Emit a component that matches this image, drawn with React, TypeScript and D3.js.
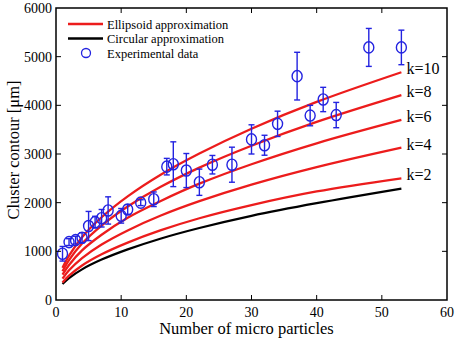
import React, { useEffect, useRef } from 'react';
import * as d3 from 'd3';

// Experimental cluster contour measurements
const nParticles = [1, 2, 3, 4, 5, 6, 7, 8, 10, 11, 13, 15, 17, 18, 20, 22, 24, 27, 30, 32, 34, 37, 39, 41, 43, 48, 53];
const contour = [950, 1190, 1230, 1280, 1520, 1600, 1680, 1840, 1730, 1860, 2000, 2070, 2740, 2790, 2660, 2420, 2780, 2780, 3300, 3180, 3620, 4600, 3790, 4120, 3800, 5190, 5190];
const contourErr = [150, 70, 80, 100, 300, 120, 180, 280, 150, 100, 60, 150, 170, 460, 350, 270, 190, 360, 300, 205, 260, 490, 210, 250, 260, 390, 355];

// Model curves sampled at these particle counts
const modelN = [1, 2, 4, 7, 11, 16, 22, 30, 40, 53];
const ellipsoidK10 = [660, 910, 1290, 1700, 2130, 2570, 3010, 3520, 4070, 4680];
const ellipsoidK8 = [590, 820, 1160, 1530, 1920, 2320, 2720, 3170, 3660, 4210];
const ellipsoidK6 = [520, 720, 1020, 1340, 1690, 2030, 2390, 2790, 3220, 3700];
const ellipsoidK4 = [440, 610, 860, 1140, 1430, 1730, 2030, 2370, 2730, 3130];
const ellipsoidK2 = [360, 500, 710, 940, 1180, 1430, 1680, 1950, 2230, 2500];
const circular = [330, 450, 630, 830, 1040, 1260, 1480, 1730, 1990, 2290];

const ellipsoidLabels = ['k=10', 'k=8', 'k=6', 'k=4', 'k=2'];
const ellipsoidSeries = [ellipsoidK10, ellipsoidK8, ellipsoidK6, ellipsoidK4, ellipsoidK2];

const xTicks = [0, 10, 20, 30, 40, 50, 60];
const yTicks = [0, 1000, 2000, 3000, 4000, 5000, 6000];

const RED = '#ec1c1c';
const BLUE = '#2323e0';
const FONT = '"Liberation Serif", "Times New Roman", serif';

const App: React.FC = () => {
  const svgRef = useRef<SVGSVGElement>(null);
  const width = 456;
  const height = 340;

  useEffect(() => {
    if (!svgRef.current) return;
    const svg = d3.select(svgRef.current);
    svg.selectAll('*').remove();

    const margin = { top: 8, right: 9, bottom: 40, left: 56 };
    const innerWidth = width - margin.left - margin.right;
    const innerHeight = height - margin.top - margin.bottom;

    const x = d3.scaleLinear().domain([0, 60]).range([0, innerWidth]);
    const y = d3.scaleLinear().domain([0, 6000]).range([innerHeight, 0]);

    const g = svg.append('g')
      .attr('transform', `translate(${margin.left},${margin.top})`);

    const line = d3.line<number>()
      .x((_, i) => x(modelN[i]))
      .y(d => y(d))
      .curve(d3.curveCatmullRom);

    // Circular approximation (black)
    g.append('path')
      .datum(circular)
      .attr('fill', 'none')
      .attr('stroke', '#000')
      .attr('stroke-width', 2.2)
      .attr('d', line);

    // Ellipsoid approximations for each k
    ellipsoidSeries.forEach((series, i) => {
      g.append('path')
        .datum(series)
        .attr('fill', 'none')
        .attr('stroke', RED)
        .attr('stroke-width', 2.3)
        .attr('d', line);

      g.append('text')
        .attr('x', x(modelN[modelN.length - 1]) + 5)
        .attr('y', y(series[series.length - 1]) + 2)
        .style('font-family', FONT)
        .style('font-size', '16px')
        .text(ellipsoidLabels[i]);
    });

    // Experimental points with error bars
    const pts = g.append('g')
      .attr('fill', 'none')
      .attr('stroke', BLUE)
      .attr('stroke-width', 1.4);

    nParticles.forEach((n, i) => {
      const cx = x(n);
      const lo = y(contour[i] - contourErr[i]);
      const hi = y(contour[i] + contourErr[i]);
      pts.append('line').attr('x1', cx).attr('x2', cx).attr('y1', lo).attr('y2', hi);
      pts.append('line').attr('x1', cx - 3).attr('x2', cx + 3).attr('y1', lo).attr('y2', lo);
      pts.append('line').attr('x1', cx - 3).attr('x2', cx + 3).attr('y1', hi).attr('y2', hi);
      pts.append('ellipse')
        .attr('cx', cx)
        .attr('cy', y(contour[i]))
        .attr('rx', 5)
        .attr('ry', 5.6);
    });

    // Frame with inward ticks on all four sides
    g.append('rect')
      .attr('width', innerWidth)
      .attr('height', innerHeight)
      .attr('fill', 'none')
      .attr('stroke', '#000')
      .attr('stroke-width', 1.5);

    const ticks = g.append('g').attr('stroke', '#000').attr('stroke-width', 1);
    xTicks.slice(1, -1).forEach(t => {
      ticks.append('line').attr('x1', x(t)).attr('x2', x(t)).attr('y1', innerHeight).attr('y2', innerHeight - 5);
      ticks.append('line').attr('x1', x(t)).attr('x2', x(t)).attr('y1', 0).attr('y2', 5);
    });
    yTicks.slice(1, -1).forEach(t => {
      ticks.append('line').attr('x1', 0).attr('x2', 5).attr('y1', y(t)).attr('y2', y(t));
      ticks.append('line').attr('x1', innerWidth).attr('x2', innerWidth - 5).attr('y1', y(t)).attr('y2', y(t));
    });

    xTicks.forEach(t => {
      g.append('text')
        .attr('x', x(t))
        .attr('y', innerHeight + 17)
        .attr('text-anchor', 'middle')
        .style('font-family', FONT)
        .style('font-size', '14px')
        .text(t);
    });
    yTicks.forEach(t => {
      g.append('text')
        .attr('x', -4)
        .attr('y', y(t) + 5)
        .attr('text-anchor', 'end')
        .style('font-family', FONT)
        .style('font-size', '14px')
        .text(t);
    });

    // Axis labels
    svg.append('text')
      .attr('x', margin.left + innerWidth / 2 - 5)
      .attr('y', 334)
      .attr('text-anchor', 'middle')
      .style('font-family', FONT)
      .style('font-size', '16.5px')
      .text('Number of micro particles');

    svg.append('text')
      .attr('transform', 'rotate(-90)')
      .attr('x', -150)
      .attr('y', 19)
      .attr('text-anchor', 'middle')
      .style('font-family', FONT)
      .style('font-size', '16.5px')
      .text('Cluster contour [μm]');

    // Legend
    const legend = svg.append('g').attr('transform', 'translate(68, 24)');
    const legendRows = [
      { label: 'Ellipsoid approximation', kind: 'red' },
      { label: 'Circular approximation', kind: 'black' },
      { label: 'Experimental data', kind: 'marker' },
    ];
    legendRows.forEach((row, i) => {
      const ly = i * 14.5;
      if (row.kind === 'marker') {
        legend.append('ellipse')
          .attr('cx', 18)
          .attr('cy', ly)
          .attr('rx', 4.5)
          .attr('ry', 4.5)
          .attr('fill', 'none')
          .attr('stroke', BLUE)
          .attr('stroke-width', 1.3);
      } else {
        legend.append('line')
          .attr('x1', 0)
          .attr('x2', 35)
          .attr('y1', ly)
          .attr('y2', ly)
          .attr('stroke', row.kind === 'red' ? RED : '#000')
          .attr('stroke-width', 2.3);
      }
      legend.append('text')
        .attr('x', 39)
        .attr('y', ly + 4.5)
        .style('font-family', FONT)
        .style('font-size', '12.5px')
        .text(row.label);
    });
  }, []);

  return (
    <svg
      ref={svgRef}
      width={width}
      height={height}
      style={{ position: 'absolute', left: 0, top: 0, background: '#fff' }}
    />
  );
};

export default App;
